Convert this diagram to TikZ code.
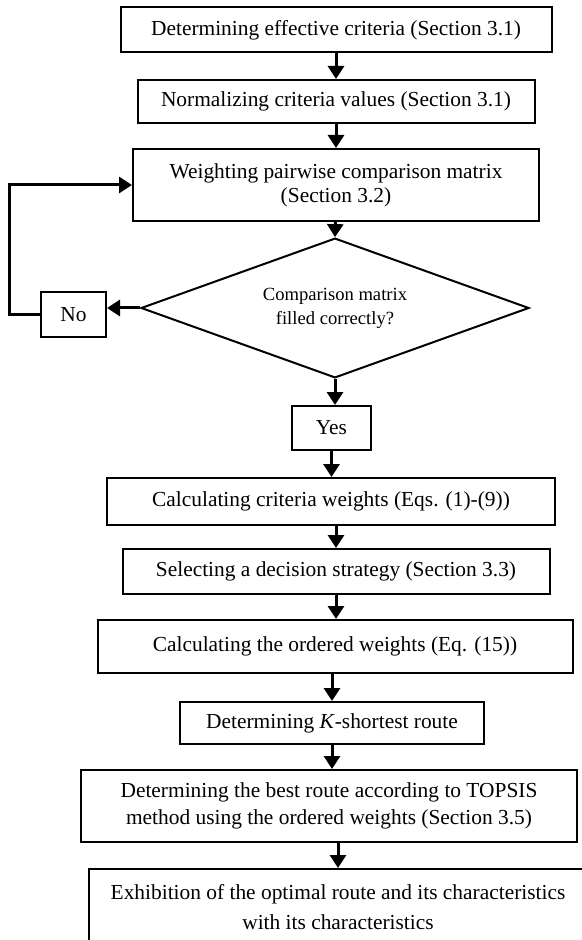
\documentclass[tikz,border=0pt]{standalone}
\usepackage{fontspec}
\setmainfont{Liberation Serif}
\usetikzlibrary{arrows.meta,shapes.geometric}

\begin{document}
\begin{tikzpicture}[
    x=0.5pt, y=-0.5pt,
    font=\fontsize{10.7}{12}\selectfont,
    box/.style={draw, line width=1pt, inner sep=0pt, align=center},
    decis/.style={draw, diamond, aspect=1.45, line width=1pt, inner sep=0pt, align=center,
                  font=\fontsize{9.3}{12}\selectfont},
    arr/.style={-{Triangle[length=6.5pt, width=8pt]}, line width=1.5pt}
]
    \path[use as bounding box] (0,0) rectangle (582,940);
    \clip (0,0) rectangle (582,940);

    \node[box, minimum width=215.5pt, minimum height=22.5pt] (crit) at (336,30)
        {Determining effective criteria (Section 3.1)};
    \node[box, minimum width=198.5pt, minimum height=21.5pt] (norm) at (336,101.5)
        {Normalizing criteria values (Section 3.1)};
    \node[box, minimum width=203pt, minimum height=36pt] (pairw) at (336,185)
        {Weighting pairwise comparison matrix\\ (Section 3.2)};
    \node[decis, minimum width=194pt] (check) at (335,308)
        {Comparison matrix\\ filled correctly?};
    \node[box, minimum width=32.5pt, minimum height=22.5pt] (no) at (73.5,314.5) {No};
    \node[box, minimum width=39.5pt, minimum height=22pt] (yes) at (331.5,428) {Yes};
    \node[box, minimum width=224pt, minimum height=23.5pt] (wts) at (331,501.5)
        {Calculating criteria weights (Eqs. (1)-(9))};
    \node[box, minimum width=213.5pt, minimum height=22.5pt] (strat) at (336,571.5)
        {Selecting a decision strategy (Section 3.3)};
    \node[box, minimum width=237.5pt, minimum height=26.5pt] (owa) at (335,646.5)
        {Calculating the ordered weights (Eq. (15))};
    \node[box, minimum width=152pt, minimum height=21pt] (kshort) at (332,723)
        {Determining \textit{K}-shortest route};
    \node[box, minimum width=248pt, minimum height=36pt, font=\fontsize{10.7}{13.5}\selectfont]
        (topsis) at (329,806)
        {Determining the best route according to TOPSIS\\
         method using the ordered weights (Section 3.5)};
    \node[box, minimum width=249pt, minimum height=38pt, font=\fontsize{10.7}{15}\selectfont]
        (result) at (338,907)
        {Exhibition of the optimal route and its characteristics\\
         with its characteristics};

    \draw[arr] (crit) -- (crit |- norm.north);
    \draw[arr] (norm) -- (norm |- pairw.north);
    \draw[arr] (pairw) -- (check.north);
    \draw[arr] (check.west) -- (check.west -| no.east);
    \draw[arr] (no.west) -- ++(-31,0) |- (pairw.west);
    \draw[arr] (check.south) -- (check.south |- yes.north);
    \draw[arr] (yes) -- (yes |- wts.north);
    \draw[arr] (strat |- wts.south) -- (strat);
    \draw[arr] (strat) -- (strat |- owa.north);
    \draw[arr] (kshort |- owa.south) -- (kshort);
    \draw[arr] (kshort) -- (kshort |- topsis.north);
    \draw[arr] (result |- topsis.south) -- (result);
\end{tikzpicture}
\end{document}
